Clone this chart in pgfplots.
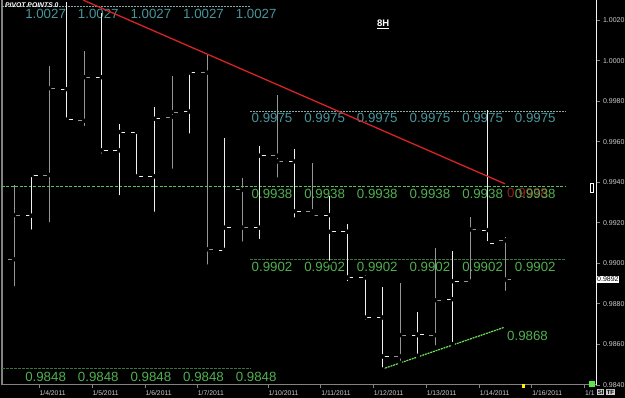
\documentclass[border=0pt]{standalone}
\usepackage{pgfplots}
\pgfplotsset{compat=1.18}
\usepackage{pgfplotstable}
\usepackage{fontspec}
\setmainfont{Liberation Sans}
\definecolor{barw}{RGB}{240,240,240}
\definecolor{barg}{RGB}{150,150,150}
\definecolor{rteal}{RGB}{70,150,155}
\definecolor{rline}{RGB}{140,165,165}
\definecolor{pgreen}{RGB}{80,175,80}
\definecolor{pline}{RGB}{90,190,90}
\definecolor{sline}{RGB}{60,115,60}
\definecolor{tred}{RGB}{215,35,35}
\definecolor{dred}{RGB}{150,30,30}
\definecolor{tgreen}{RGB}{110,225,90}
\definecolor{axgray}{RGB}{130,130,130}
\definecolor{lblgray}{RGB}{205,205,205}

\pgfplotstableread{
i o h l c
1 0.99235 0.99436 0.99156 0.99436
3 0.99859 1.00289 0.99708 0.99708
5 0.99918 1.00234 0.99531 0.99557
6 0.99557 0.99687 0.99326 0.99648
7 0.99648 0.99648 0.99412 0.99429
8 0.99429 0.99771 0.99244 0.99713
10 0.99749 0.99949 0.99630 0.99941
12 0.99066 0.99618 0.99066 0.99176
14 0.99176 0.99580 0.99110 0.99531
16 0.99503 0.99564 0.99216 0.99257
18 0.99238 0.99331 0.99003 0.99156
19 0.99156 0.99195 0.98902 0.98930
20 0.98930 0.98943 0.98711 0.98733
21 0.98733 0.98881 0.98476 0.98541
23 0.98646 0.98759 0.98544 0.98649
25 0.98823 0.99061 0.98602 0.98912
27 0.99164 0.99757 0.99098 0.99098
}\whitebars

\pgfplotstableread{
i o h l c
0 0.99020 0.99385 0.98877 0.99238
2 0.99436 0.99972 0.99192 0.99864
4 0.99703 1.00049 0.99667 0.99918
9 0.99722 0.99925 0.99457 0.99746
11 0.99941 1.00033 0.98984 0.99069
13 0.99363 0.99422 0.99097 0.99176
15 0.99531 0.99831 0.99413 0.99503
17 0.99257 0.99493 0.99225 0.99238
22 0.98541 0.98905 0.98509 0.98646
24 0.98646 0.99077 0.98585 0.98818
26 0.98910 0.99228 0.98888 0.99167
28 0.99113 0.99131 0.98854 0.98920
}\graybars

\newcommand{\pvfont}{\fontsize{13.3}{14}\selectfont}

\begin{document}
\begin{tikzpicture}
\fill[black] (0,0) rectangle (625pt,398pt);
\begin{axis}[
  at={(2pt,13pt)}, anchor=south west,
  scale only axis, width=594pt, height=385pt,
  xmin=-0.684, xmax=33.162, ymin=0.9840, ymax=1.00299,
  clip=false,
  axis x line*=bottom, axis y line*=right,
  x axis line style={-, draw=axgray, line width=1pt},
  y axis line style={-, draw=barw, line width=0.8pt},
  xtick={1.42,4.44,7.46,10.44,14.47,17.48,20.46,23.48,26.5,29.5,32.5},
  xticklabels={1/4/2011,1/5/2011,1/6/2011,1/7/2011,1/10/2011,1/11/2011,1/12/2011,1/13/2011,1/14/2011,1/16/2011,1/1},
  ytick={0.984,0.986,0.988,0.990,0.992,0.994,0.996,0.998,1.000,1.002},
  scaled y ticks=false,
  y tick label style={/pgf/number format/fixed, /pgf/number format/fixed zerofill, /pgf/number format/precision=4, /pgf/number format/assume math mode=true, font=\fontsize{7}{7.5}\selectfont, text=lblgray},
  x tick label style={anchor=north west, font=\fontsize{6.8}{7}\selectfont, text=lblgray, inner sep=0pt, yshift=-1.5pt, xshift=0.5pt},
  tick align=outside, major tick length=3.5pt,
  tick style={draw=axgray, line width=0.8pt},
]
% left border
\draw[axgray, line width=1.5pt] (rel axis cs:0,0) -- (rel axis cs:0,1);

% pivot lines
\addplot[rline, dash pattern=on 2pt off 1pt, line width=0.6pt] coordinates {(-0.684,1.0027) (13.45,1.0027)};
\addplot[rline, dash pattern=on 2pt off 1pt, line width=0.6pt] coordinates {(13.45,0.9975) (31.45,0.9975)};
\addplot[pline, dash pattern=on 3pt off 1.5pt, line width=0.9pt] coordinates {(-0.684,0.9938) (31.45,0.9938)};
\addplot[sline, dash pattern=on 3pt off 1pt, line width=0.7pt] coordinates {(13.45,0.9902) (31.45,0.9902)};
\addplot[sline, dash pattern=on 3pt off 1pt, line width=0.7pt] coordinates {(-0.684,0.9848) (13.45,0.9848)};

% pivot labels
\pgfplotsinvokeforeach{0.63,3.63,6.63,9.63,12.63}{
  \node[anchor=north west, inner sep=0pt, text=rteal, font=\pvfont] at (axis cs:#1,1.0027) [yshift=-3.2pt] {1.0027};
  \node[anchor=north west, inner sep=0pt, text=pgreen, font=\pvfont] at (axis cs:#1,0.9848) [yshift=-3pt] {0.9848};
}
\node[anchor=north west, inner sep=0pt, text=dred, font=\pvfont] at (axis cs:28.09,0.9938) [yshift=-1.5pt] {0.9938};
\pgfplotsinvokeforeach{13.53,16.53,19.53,22.53,25.53,28.53}{
  \node[anchor=north west, inner sep=0pt, text=rteal, font=\pvfont] at (axis cs:#1,0.9975) [yshift=-1.8pt] {0.9975};
  \node[anchor=north west, inner sep=0pt, text=pgreen, font=\pvfont] at (axis cs:#1,0.9938) [yshift=-3pt] {0.9938};
  \node[anchor=north west, inner sep=0pt, text=pgreen, font=\pvfont] at (axis cs:#1,0.9902) [yshift=-2.5pt] {0.9902};
}

% OHLC bars - white
\addplot[only marks, mark=none, error bars/.cd, y dir=plus, y explicit, error mark=none, error bar style={barw, line width=0.9pt}]
  table[x=i, y=l, y error plus expr=\thisrow{h}-\thisrow{l}] {\whitebars};
\addplot[only marks, mark=none, error bars/.cd, x dir=minus, x explicit, error mark=none, error bar style={barw, line width=0.9pt}]
  table[x=i, y=o, x error minus expr=0.34] {\whitebars};
\addplot[only marks, mark=none, error bars/.cd, x dir=plus, x explicit, error mark=none, error bar style={barw, line width=0.9pt}]
  table[x=i, y=c, x error plus expr=0.34] {\whitebars};
% OHLC bars - gray
\addplot[only marks, mark=none, error bars/.cd, y dir=plus, y explicit, error mark=none, error bar style={barg, line width=0.9pt}]
  table[x=i, y=l, y error plus expr=\thisrow{h}-\thisrow{l}] {\graybars};
\addplot[only marks, mark=none, error bars/.cd, x dir=minus, x explicit, error mark=none, error bar style={barg, line width=0.9pt}]
  table[x=i, y=o, x error minus expr=0.34] {\graybars};
\addplot[only marks, mark=none, error bars/.cd, x dir=plus, x explicit, error mark=none, error bar style={barg, line width=0.9pt}]
  table[x=i, y=c, x error plus expr=0.34] {\graybars};

% trend lines
\addplot[tred, line width=1.3pt] coordinates {(3.93,1.00299) (27.98,0.99392)};
\addplot[tgreen, dash pattern=on 2pt off 0.8pt, line width=1.2pt] coordinates {(21.0,0.98479) (27.92,0.98684)};
\node[anchor=north west, inner sep=0pt, text=pgreen, font=\pvfont] at (axis cs:28.09,0.98667) {0.9868};

% annotations
\node[anchor=north west, inner sep=0pt, text=white, font=\fontsize{6.8}{7}\selectfont\bfseries\itshape] at (axis cs:-0.513,1.00288) {PIVOT POINTS 0};
\node[inner sep=0pt, text=white, font=\fontsize{9.5}{10}\selectfont\bfseries] at (axis cs:21.03,1.0018) {\underline{8H}};
\node[anchor=west, fill=white, text=black, inner sep=0.8pt, font=\fontsize{7}{7.5}\selectfont] at (axis cs:33.162,0.9892) [xshift=0.2pt] {0.9892};
\draw[white, line width=0.5pt] (axis cs:32.82,0.99352) rectangle (axis cs:33.0,0.99396);
\fill[tgreen!80!green] (axis cs:32.76,0.98391) rectangle (axis cs:33.1,0.98420);
\fill[yellow] (axis cs:28.95,0.98385) rectangle (axis cs:29.12,0.98405);
\end{axis}
\node[fill=lblgray, text=black, inner sep=0.6pt, font=\fontsize{6}{6}\selectfont\bfseries, anchor=west] at (597pt,6pt) {SI};
\node[fill=lblgray, text=black, inner sep=0.6pt, font=\fontsize{6}{6}\selectfont\bfseries, anchor=west] at (606pt,6pt) {TF};
\pgfresetboundingbox
\useasboundingbox (0,0) rectangle (625pt,398pt);
\end{tikzpicture}
\end{document}
